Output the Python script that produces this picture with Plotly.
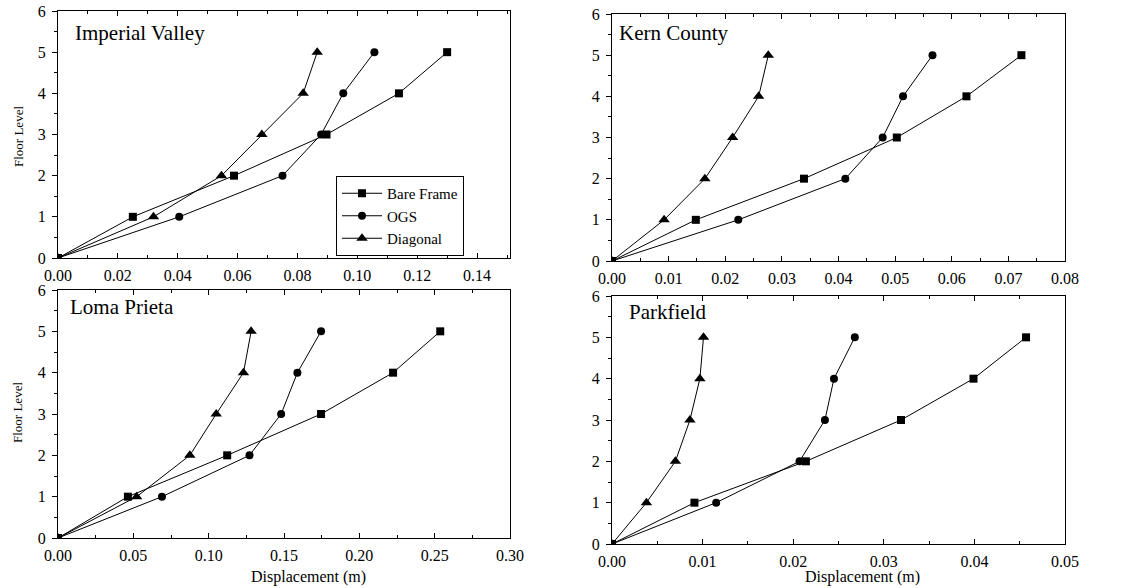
import plotly.graph_objects as go

floors = [0, 1, 2, 3, 4, 5]

# Imperial Valley
iv_bare = [0, 0.0250, 0.0588, 0.0897, 0.1139, 0.1300]
iv_ogs = [0, 0.0405, 0.0750, 0.0879, 0.0953, 0.1057]
iv_diag = [0, 0.0319, 0.0546, 0.0681, 0.0819, 0.0866]

# Kern County
kc_bare = [0, 0.0148, 0.0339, 0.0503, 0.0626, 0.0723]
kc_ogs = [0, 0.0223, 0.0412, 0.0478, 0.0514, 0.0566]
kc_diag = [0, 0.0092, 0.0164, 0.0213, 0.0259, 0.0276]

# Loma Prieta
lp_bare = [0, 0.0464, 0.1123, 0.1746, 0.2224, 0.2537]
lp_ogs = [0, 0.0690, 0.1271, 0.1481, 0.1589, 0.1746]
lp_diag = [0, 0.0522, 0.0875, 0.1050, 0.1231, 0.1282]

# Parkfield
pf_bare = [0, 0.0091, 0.0214, 0.0319, 0.0399, 0.0457]
pf_ogs = [0, 0.0115, 0.0207, 0.0235, 0.0245, 0.0268]
pf_diag = [0, 0.0038, 0.0070, 0.0086, 0.0097, 0.0101]

series_names = ["Bare Frame", "OGS", "Diagonal"]
panel_titles = ["Imperial Valley", "Kern County", "Loma Prieta", "Parkfield"]
x_title = "Displacement (m)"
y_title = "Floor Level"

panels = [
    (iv_bare, iv_ogs, iv_diag),
    (kc_bare, kc_ogs, kc_diag),
    (lp_bare, lp_ogs, lp_diag),
    (pf_bare, pf_ogs, pf_diag),
]

# figure fills the whole window (page body margin removed below)
W, H = 1130, 588
FONT = "Liberation Serif"


def fx(px):
    return px / W


def fy(py):
    return 1 - py / H


# pixel boxes in window coordinates (left, right, top, bottom)
boxes = [
    (58, 510, 11, 258),
    (612, 1065, 14, 261),
    (58, 510, 290, 538),
    (612, 1065, 296, 544),
]
x_ranges = [[0, 0.151], [0, 0.08], [0, 0.30], [0, 0.05]]
x_dticks = [0.02, 0.01, 0.05, 0.01]

symbols = ["square", "circle", "triangle-up"]
sizes = [8, 8, 10]

fig = go.Figure()

for i, data in enumerate(panels):
    n = i + 1
    xa = "x" if n == 1 else f"x{n}"
    ya = "y" if n == 1 else f"y{n}"
    for k, vals in enumerate(data):
        fig.add_trace(go.Scatter(
            x=vals, y=floors, mode="lines+markers",
            name=series_names[k],
            line=dict(color="black", width=1),
            marker=dict(symbol=symbols[k], size=sizes[k], color="black"),
            xaxis=xa, yaxis=ya,
            showlegend=(n == 1),
        ))

layout = dict(
    width=W, height=H, autosize=False,
    margin=dict(l=0, r=0, t=0, b=0, autoexpand=False),
    paper_bgcolor="white", plot_bgcolor="white",
    font=dict(family=FONT, color="black", size=16),
    showlegend=True,
    legend=dict(
        x=fx(336), y=fy(176), xanchor="left", yanchor="top",
        bordercolor="black", borderwidth=1, bgcolor="white",
        font=dict(family=FONT, size=15, color="black"),
        tracegroupgap=0, itemwidth=40,
    ),
)

annotations = []
for i, box in enumerate(boxes):
    n = i + 1
    l, r, t, b = box
    xkey = "xaxis" if n == 1 else f"xaxis{n}"
    ykey = "yaxis" if n == 1 else f"yaxis{n}"
    xa = "x" if n == 1 else f"x{n}"
    ya = "y" if n == 1 else f"y{n}"
    dt = x_dticks[i]
    layout[xkey] = dict(
        domain=[fx(l), fx(r)], anchor=ya, range=x_ranges[i],
        dtick=dt, tick0=0, tickformat=".2f",
        ticks="inside", ticklen=5, tickwidth=1, tickcolor="black",
        minor=dict(dtick=dt / 2, ticks="inside", ticklen=3, tickcolor="black"),
        showline=True, linecolor="black", linewidth=1, mirror="ticks",
        showgrid=False, zeroline=False, automargin=False,
        tickfont=dict(family=FONT, size=16, color="black"),
        ticklabelstandoff=3, ticklabeloverflow="allow",
        fixedrange=True,
    )
    layout[ykey] = dict(
        domain=[fy(b), fy(t)], anchor=xa, range=[0, 6],
        dtick=1, tick0=0,
        ticks="outside", ticklen=5, tickwidth=1, tickcolor="black",
        minor=dict(dtick=0.5, ticks="outside", ticklen=3, tickcolor="black"),
        showline=True, linecolor="black", linewidth=1, mirror=True,
        showgrid=False, zeroline=False, automargin=False,
        tickfont=dict(family=FONT, size=16, color="black"),
        ticklabelstandoff=3, ticklabeloverflow="allow",
        fixedrange=True,
    )
    # right-side inside ticks
    rkey = f"yaxis{n + 4}"
    layout[rkey] = dict(
        overlaying=ya, side="right", anchor=xa, range=[0, 6],
        dtick=1, tick0=0, ticks="inside", ticklen=5, tickcolor="black",
        minor=dict(dtick=0.5, ticks="inside", ticklen=3, tickcolor="black"),
        showticklabels=False, showgrid=False, zeroline=False, showline=False,
        automargin=False, fixedrange=True,
    )

# panel titles
title_pos = [(73, 33), (617, 33), (68, 307), (627, 312)]
for (px, py), txt in zip(title_pos, panel_titles):
    annotations.append(dict(
        text=txt, x=fx(px), y=fy(py), xref="paper", yref="paper",
        xanchor="left", yanchor="middle", showarrow=False,
        font=dict(family=FONT, size=21, color="black"),
    ))

# y axis titles
for py in [137, 413]:
    annotations.append(dict(
        text=y_title, x=fx(18), y=fy(py), xref="paper", yref="paper",
        xanchor="center", yanchor="middle", showarrow=False, textangle=-90,
        font=dict(family=FONT, size=13, color="black"),
    ))

# x axis titles
for px in [308, 862]:
    annotations.append(dict(
        text=x_title, x=fx(px), y=fy(577), xref="paper", yref="paper",
        xanchor="center", yanchor="middle", showarrow=False,
        font=dict(family=FONT, size=16, color="black"),
    ))

layout["annotations"] = annotations
fig.update_layout(**layout)

fig.write_html(
    "out.html",
    config={"displayModeBar": False},
    post_script="document.body.style.margin='0';document.body.style.overflow='hidden';",
)
